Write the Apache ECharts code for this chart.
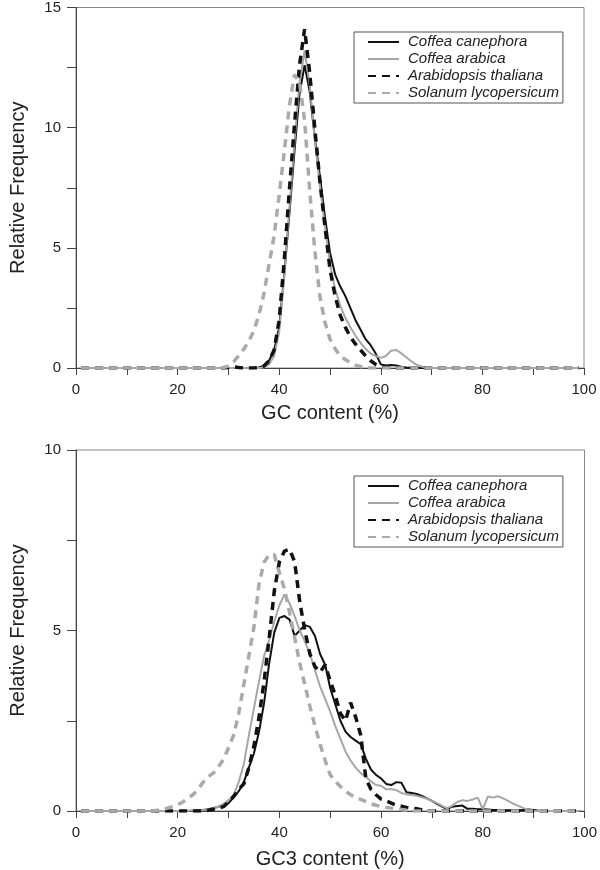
<!DOCTYPE html>
<html>
<head>
<meta charset="utf-8">
<script src="https://cdn.jsdelivr.net/npm/echarts@6/dist/echarts.min.js"></script>
<style>
html,body{margin:0;padding:0;background:#fff;}
#chart{width:600px;height:870px;}
</style>
</head>
<body>
<div id="chart"></div>
<script>
// ---------- DATA ----------
var seriesNames = ['Coffea canephora', 'Coffea arabica', 'Arabidopsis thaliana', 'Solanum lycopersicum'];

// Top panel: GC content (%)
var gcX = [1,28,29,30,31,32,33,34,35,36,37,38,39,40,41,42,43,44,45,46,47,48,49,50,51,52,53,54,55,56,57,58,59,60,61,62,63,64,65,66,67,68,69,70,99];
var gcCanephora = [0,0,0,0,0,0,0,0,0,0.02,0.1,0.3,0.75,1.7,3.9,6.4,9.0,11.4,12.6,11.5,9.6,8.0,6.3,4.8,3.9,3.4,3.0,2.5,2.0,1.6,1.2,0.95,0.6,0.15,0.1,0.12,0.1,0.05,0.02,0,0,0,0,0,0];
var gcArabica = [0,0,0,0,0,0,0,0,0,0,0.03,0.15,0.5,1.5,3.8,6.6,9.4,11.9,13.2,11.8,9.5,7.6,5.9,4.3,3.3,2.6,2.1,1.7,1.35,1.05,0.8,0.6,0.5,0.42,0.5,0.72,0.75,0.62,0.45,0.28,0.14,0.06,0.02,0,0];
var gcArabidopsis = [0,0,0,0.02,0.05,0.02,0,0,0,0.02,0.08,0.3,0.75,2.0,4.5,7.4,10.1,12.6,14.1,12.3,10.0,7.8,5.9,4.1,3.0,2.2,1.7,1.3,1.0,0.75,0.5,0.3,0.15,0.08,0.03,0,0,0,0,0,0,0,0,0,0];
var gcSolanum = [0,0,0.02,0.08,0.25,0.5,0.78,1.1,1.55,2.2,3.1,4.3,5.5,7.2,9.0,10.9,12.2,11.9,10.3,7.4,4.9,3.0,1.9,1.2,0.8,0.5,0.35,0.22,0.12,0.06,0.02,0,0,0,0,0,0,0,0,0,0,0,0,0,0];

// Bottom panel: GC3 content (%)
var gc3X = [1,15,16,17,18,19,20,21,22,23,24,25,26,27,28,29,30,31,32,33,34,35,36,37,38,39,40,41,42,43,44,45,46,47,48,49,50,51,52,53,54,55,56,57,58,59,60,61,62,63,64,65,66,67,68,69,70,71,72,73,74,75,76,77,78,79,80,81,82,83,84,85,86,87,88,89,90,91,92,93,94,99];
var gc3Canephora = [0,
  0,0,0,0,0,0,0,0,0.01,0.02,
  0.03,0.05,0.08,0.12,0.15,0.22,0.38,0.55,0.8,1.2,
  1.6,2.2,3.0,4.1,4.95,5.35,5.4,5.3,4.85,5.0,
  5.15,5.1,4.85,4.35,4.05,3.4,2.95,2.5,2.2,2.05,
  1.95,1.85,1.45,1.15,1.0,0.9,0.75,0.72,0.8,0.78,
  0.52,0.5,0.47,0.42,0.35,0.28,0.2,0.12,0.05,0.12,
  0.14,0.15,0.06,0.06,0.05,0.05,0.04,0.03,0.03,0.02,
  0.02,0.02,0.02,0.03,0.04,0.03,0.01,0,0,0,
  0];
var gc3Arabica = [0,
  0,0,0,0,0,0,0.01,0.01,0.02,0.02,
  0.03,0.05,0.08,0.12,0.2,0.3,0.45,0.8,1.3,2.1,
  2.85,3.6,4.3,4.75,5.25,5.7,6.0,5.75,5.4,5.0,
  4.7,4.35,3.9,3.45,3.1,2.75,2.35,2.0,1.65,1.4,
  1.2,1.05,0.95,0.82,0.72,0.7,0.6,0.6,0.58,0.5,
  0.46,0.44,0.42,0.38,0.34,0.28,0.22,0.14,0.07,0.15,
  0.25,0.3,0.28,0.32,0.37,0.05,0.4,0.37,0.41,0.35,
  0.28,0.2,0.14,0.08,0.03,0,0,0,0,0,
  0];
var gc3Arabidopsis = [0,
  0,0,0,0,0,0,0,0,0,0,
  0,0.02,0.05,0.08,0.12,0.25,0.4,0.6,0.75,1.2,
  1.8,2.6,3.6,4.8,6.1,6.9,7.2,7.25,6.9,5.8,
  5.0,4.35,4.0,3.85,4.05,3.6,3.2,2.7,2.5,3.0,
  2.6,2.1,0.9,0.6,0.45,0.33,0.28,0.22,0.16,0.13,
  0.1,0.08,0.06,0.03,0,0,0,0,0,0,
  0,0,0,0,0,0,0,0,0,0,
  0,0,0,0,0,0,0,0,0,0,
  0];
var gc3Solanum = [0,
  0,0.02,0.05,0.08,0.12,0.17,0.25,0.35,0.45,0.6,
  0.8,0.95,1.05,1.22,1.43,1.75,2.1,2.7,3.5,4.3,
  5.1,6.3,6.9,7.1,7.1,6.6,6.15,5.5,4.8,4.1,
  3.5,2.9,2.35,1.85,1.4,1.0,0.82,0.68,0.55,0.45,
  0.38,0.32,0.26,0.2,0.16,0.13,0.1,0.08,0.06,0.04,
  0.02,0,0,0,0,0,0,0,0,0,
  0,0,0,0,0,0,0,0,0,0,
  0,0,0,0,0,0,0,0,0,0,
  0];

var xTicks = [0, 20, 40, 60, 80, 100];
var yTicksTop = [0, 5, 10, 15];
var yTicksBottom = [0, 5, 10];

// ---------- CHART ----------
var FONT = '"Liberation Sans", Arial, sans-serif';
function pairs(xs, ys) { return xs.map(function (x, i) { return [x, ys[i]]; }); }

var styles = [
  { color: '#111111', width: 2, type: 'solid' },
  { color: '#a6a6a6', width: 2, type: 'solid' },
  { color: '#111111', width: 3.5, type: [8, 6] },
  { color: '#aaaaaa', width: 3.5, type: [8, 6] }
];

function mkSeries(idx, xs, list) {
  return list.map(function (ys, i) {
    return {
      name: seriesNames[i], type: 'line', xAxisIndex: idx, yAxisIndex: idx,
      data: pairs(xs, ys), symbol: 'none', showSymbol: false, smooth: false,
      lineStyle: { color: styles[i].color, width: styles[i].width, type: styles[i].type },
      itemStyle: { color: styles[i].color },
      animation: false, silent: true
    };
  });
}

function xAx(grid, name, gap) {
  return {
    gridIndex: grid, type: 'value', min: 0, max: 100, interval: 10,
    name: name, nameLocation: 'middle', nameGap: gap,
    nameTextStyle: { fontSize: 20, color: '#222', fontFamily: FONT },
    axisLine: { show: true, onZero: false, lineStyle: { color: '#444', width: 1 } },
    axisTick: { show: true, inside: false, length: 7, lineStyle: { color: '#444' } },
    axisLabel: { margin: 14, fontSize: 15, color: '#222', fontFamily: FONT,
      formatter: function (v) { return xTicks.indexOf(v) >= 0 ? String(v) : ''; } },
    splitLine: { show: false }
  };
}
function yAx(grid, max, ticks) {
  return {
    gridIndex: grid, type: 'value', min: 0, max: max, interval: 2.5,
    name: 'Relative Frequency', nameLocation: 'middle', nameGap: 48,
    nameTextStyle: { fontSize: 20, color: '#222', fontFamily: FONT },
    axisLine: { show: true, onZero: false, lineStyle: { color: '#444', width: 1 } },
    axisTick: { show: true, inside: false, length: 9, lineStyle: { color: '#444' } },
    axisLabel: { margin: 15, fontSize: 15, color: '#222', fontFamily: FONT,
      formatter: function (v) { return ticks.indexOf(v) >= 0 ? String(v) : ''; } },
    splitLine: { show: false }
  };
}
function legend(top) {
  return {
    orient: 'vertical', left: 354, top: top,
    data: seriesNames,
    itemWidth: 31, itemHeight: 14, itemGap: 1,
    padding: [2, 4, 2, 13],
    borderColor: '#555', borderWidth: 1, backgroundColor: '#fff',
    selectedMode: false,
    itemStyle: { opacity: 0, borderWidth: 0 },
    textStyle: { fontSize: 15, fontStyle: 'italic', color: '#222', fontFamily: FONT,
      lineHeight: 16, padding: [0, 0, 0, 4] }
  };
}

var chart = echarts.init(document.getElementById('chart'), null, { renderer: 'canvas' });
chart.setOption({
  backgroundColor: '#fff',
  animation: false,
  grid: [
    { left: 67, top: 5, width: 517, height: 363, show: true, borderColor: '#888', borderWidth: 1, backgroundColor: 'transparent' },
    { left: 68, top: 450, width: 519, height: 362, show: true, borderColor: '#888', borderWidth: 1, backgroundColor: 'transparent' }
  ],
  xAxis: [xAx(0, 'GC content (%)', 35), xAx(1, 'GC3 content (%)', 38)],
  yAxis: [yAx(0, 15, yTicksTop), yAx(1, 10, yTicksBottom)],
  legend: [legend(32), legend(476)],
  series: mkSeries(0, gcX, [gcCanephora, gcArabica, gcArabidopsis, gcSolanum])
    .concat(mkSeries(1, gc3X, [gc3Canephora, gc3Arabica, gc3Arabidopsis, gc3Solanum]))
});
</script>
</body>
</html>
